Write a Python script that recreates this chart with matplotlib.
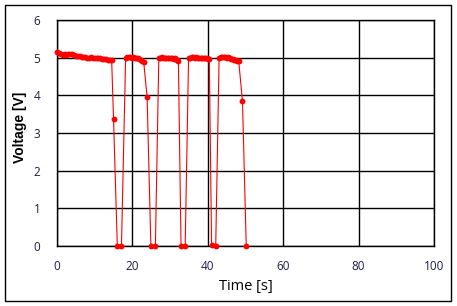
import matplotlib
matplotlib.use("Agg")
import matplotlib.pyplot as plt
from matplotlib.patches import Rectangle

time_s = [
    0.0, 0.5, 1.0, 1.5, 2.0, 2.5, 3.0, 3.5, 4.0, 4.5, 5.0, 5.5, 6.0, 6.5, 7.0,
    7.5, 8.0, 8.5, 9.0, 9.5, 10.0, 10.5, 11.0, 11.5, 12.0, 12.5, 13.0, 13.5, 14.0, 14.5,
    15.0, 16.0, 17.1,
    18.2, 18.6, 19.0, 19.4, 19.8, 20.2, 20.6, 21.0, 21.4, 21.8, 22.2, 22.6, 23.0,
    23.9, 24.9, 26.1,
    27.0, 27.4, 27.8, 28.2, 28.6, 29.0, 29.4, 29.8, 30.2, 30.6, 31.0, 31.4, 31.8, 32.2,
    32.9, 34.0,
    34.9, 35.3, 35.7, 36.1, 36.5, 36.9, 37.3, 37.7, 38.1, 38.5, 38.9, 39.3, 39.7, 40.1, 40.4,
    41.0, 42.1,
    43.0, 43.4, 43.8, 44.2, 44.6, 45.0, 45.4, 45.8, 46.2, 46.6, 47.0, 47.4, 47.8, 48.2,
    49.2, 50.2,
]
voltage_v = [
    5.15, 5.13, 5.10, 5.08, 5.09, 5.07, 5.10, 5.11, 5.09, 5.06, 5.05, 5.05, 5.04, 5.02, 5.03,
    5.02, 5.00, 5.00, 5.01, 4.99, 4.99, 5.00, 4.98, 4.98, 4.97, 4.97, 4.96, 4.95, 4.94, 4.93,
    3.36, 0.0, 0.0,
    4.98, 5.02, 5.03, 5.01, 5.00, 5.01, 4.99, 4.99, 4.98, 4.96, 4.93, 4.90, 4.88,
    3.96, 0.0, 0.0,
    4.98, 5.00, 5.01, 4.99, 5.00, 5.00, 4.99, 5.00, 5.00, 4.98, 4.97, 4.98, 4.95, 4.92,
    0.0, 0.0,
    4.99, 5.00, 5.02, 5.01, 5.00, 5.01, 4.99, 5.00, 4.99, 4.98, 4.99, 4.98, 4.98, 4.97, 4.96,
    0.03, 0.0,
    5.00, 5.03, 5.02, 5.01, 5.02, 5.00, 5.01, 4.99, 4.97, 4.96, 4.95, 4.94, 4.92, 4.91,
    3.84, 0.0,
]
x_ticks = [0, 20, 40, 60, 80, 100]
y_ticks = [0, 1, 2, 3, 4, 5, 6]

fig = plt.figure(figsize=(4.57, 3.06), dpi=100)
fig.patch.set_facecolor("white")
fig.patches.append(Rectangle((5 / 457, 5 / 306), 446 / 457, 296 / 306,
                             transform=fig.transFigure, fill=False,
                             edgecolor="black", linewidth=1.0))

ax = fig.add_axes([57 / 457, 60 / 306, 377 / 457, 226 / 306])
ax.plot(time_s, voltage_v, color="#ff0000", linewidth=0.8,
        marker="o", markersize=4.2, markeredgewidth=0, zorder=3, clip_on=False)

ax.set_xlim(0, 100)
ax.set_ylim(0, 6)
ax.set_xticks(x_ticks)
ax.set_yticks(y_ticks)
ax.grid(True, color="black", linewidth=1.0)
ax.set_axisbelow(True)
for s in ax.spines.values():
    s.set_color("black")
    s.set_linewidth(1.0)

tick_color = "#1e1e46"
ax.tick_params(axis="both", length=0, labelsize=8.5, labelcolor=tick_color)
ax.tick_params(axis="y", pad=12)
ax.tick_params(axis="x", pad=10)
for lab in ax.get_xticklabels() + ax.get_yticklabels():
    lab.set_fontfamily("Open Sans")

ax.set_xlabel("Time [s]", fontsize=10.5, family="Open Sans", color="black")
ax.set_ylabel("Voltage [V]", fontsize=10, family="Liberation Sans",
              fontweight="bold", color="black")
ax.xaxis.set_label_coords(0.5, -0.145)
ax.yaxis.set_label_coords(-0.08, 0.527)

fig.savefig("out.png", dpi=100, facecolor="white")
